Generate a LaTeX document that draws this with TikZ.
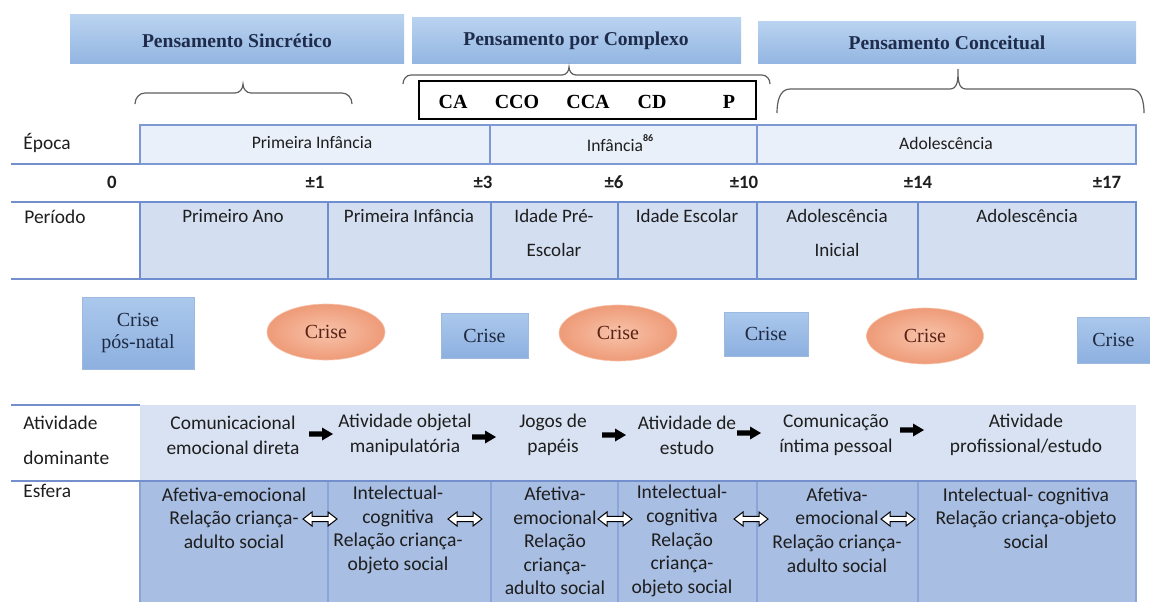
\documentclass[tikz,border=0pt]{standalone}
\usepackage{fontspec}
\setmainfont{Liberation Serif}
\newfontfamily\calfont{Carlito}
\usetikzlibrary{shapes.geometric}
\definecolor{hdrtop}{HTML}{BAD3F0}
\definecolor{hdrbot}{HTML}{93B6E2}
\definecolor{hdrtxt}{HTML}{1F2C4C}
\definecolor{crtop}{HTML}{ABC8EC}
\definecolor{crbot}{HTML}{8DB0E0}
\definecolor{crbord}{HTML}{9DB9E0}
\definecolor{elin}{HTML}{F8C3AA}
\definecolor{elout}{HTML}{EE9B78}
\definecolor{eltxt}{HTML}{5A2214}
\definecolor{crtxt}{HTML}{1E2940}
\definecolor{epfill}{HTML}{EAF0F9}
\definecolor{epbord}{HTML}{7C99D4}
\definecolor{perfill}{HTML}{D3DEF1}
\definecolor{perbord}{HTML}{6E8ED0}
\definecolor{linecol}{HTML}{7390CC}
\definecolor{actfill}{HTML}{D8E2F2}
\definecolor{esffill}{HTML}{A9BEE3}
\definecolor{esfbord}{HTML}{8BA5D6}
\definecolor{txt}{HTML}{1E1E1E}
\definecolor{bracecol}{HTML}{5E5E5E}
\begin{document}
\begin{tikzpicture}[x=0.5pt,y=-0.5pt,
  hdrtext/.style={font=\fontsize{9.8}{12}\selectfont\bfseries, text=hdrtxt, inner sep=0pt},
  hdrbox/.style={top color=hdrtop, bottom color=hdrbot},
  bracestyle/.style={draw=bracecol, line width=0.6pt},
  catext/.style={font=\fontsize{10}{12}\selectfont\bfseries, text=black, inner sep=0pt},
  lbl/.style={font=\calfont\fontsize{9.7}{17.5}\selectfont, text=txt, align=left, inner sep=0pt, anchor=west},
  eptext/.style={font=\calfont\fontsize{8.8}{11}\selectfont, text=txt, inner sep=0pt},
  numtext/.style={font=\calfont\fontsize{9.4}{11}\selectfont\bfseries, text=txt, inner sep=0pt},
  pertext/.style={font=\calfont\fontsize{9.5}{17}\selectfont, text=txt, align=center, inner sep=0pt},
  acttext/.style={font=\calfont\fontsize{9.7}{12.5}\selectfont, text=txt, align=center, inner sep=0pt},
  esftext/.style={font=\calfont\fontsize{9.8}{11.8}\selectfont, text=txt, align=center, inner sep=0pt},
  crbox/.style={rectangle, top color=crtop, bottom color=crbot, draw=crbord, line width=0.3pt,
    font=\fontsize{10}{12}\selectfont, text=crtxt, align=center, inner sep=0pt},
  crell/.style={ellipse, inner color=elin, outer color=elout, draw=elin, line width=0.3pt,
    font=\fontsize{10}{12}\selectfont, text=eltxt, inner sep=0pt},
  blkarr/.pic={\fill[black] (-12,-2.6) -- (1,-2.6) -- (1,-6.5) -- (12,0) -- (1,6.5) -- (1,2.6) -- (-12,2.6) -- cycle;},
  dblarr/.pic={\filldraw[draw=black, fill=white, line width=0.5pt, line join=miter]
     (-17,0) -- (-8,-7) -- (-8,-2.6) -- (8,-2.6) -- (8,-7) -- (17,0) -- (8,7) -- (8,2.6) -- (-8,2.6) -- (-8,7) -- cycle;},
  tline/.style={draw=linecol, line width=1pt}
]
\useasboundingbox (0,0) rectangle (1150,601);
\clip (0,0) rectangle (1150,601);
\fill[white] (0,0) rectangle (1150,601);

% ---------- header boxes ----------
\shade[hdrbox] (70,14) rectangle (404,63);
\node[hdrtext] (hs) at (237,41) {Pensamento Sincrético};
\shade[hdrbox] (412,17) rectangle (741,63);
\node[hdrtext] (hc) at (576,41) {Pensamento por Complexo};
\shade[hdrbox] (758,21) rectangle (1136,63);
\node[hdrtext] (hk) at (947,43) {Pensamento Conceitual};

% ---------- braces ----------
\draw[bracestyle] (135,104) to[out=90,in=180] (145,93) -- (235,93) to[out=0,in=-90] (243,84)
  to[out=-90,in=180] (251,93) -- (342,93) to[out=0,in=90] (352,104);
\draw[bracestyle] (403,84) to[out=90,in=180] (411,75) -- (562,75) to[out=0,in=-90] (569,67)
  to[out=-90,in=180] (576,75) -- (762,75) to[out=0,in=90] (770,84);
\draw[bracestyle] (777,113) to[out=90,in=180] (790,89) -- (950,89) to[out=0,in=-90] (958,69)
  to[out=-90,in=180] (966,89) -- (1131,89) to[out=0,in=90] (1144,113);

% ---------- complex types box ----------
\draw[black, line width=1.1pt] (419,81) rectangle (756,119);
\node[catext] (ca) at (453,102) {CA};
\node[catext] (cco) at (517,102) {CCO};
\node[catext] (cca) at (588,102) {CCA};
\node[catext] (cd) at (652,102) {CD};
\node[catext] (p) at (729,102) {P};

% ---------- Época ----------
\draw[epbord, fill=epfill, line width=1pt] (140,125) rectangle (490,164);
\draw[epbord, fill=epfill, line width=1pt] (490,125) rectangle (757,164);
\draw[epbord, fill=epfill, line width=1pt] (757,125) rectangle (1136,164);
\draw[tline] (11,164) -- (140,164);
\node[lbl] (lepoca) at (23,143) {Época};
\node[eptext] (ep1) at (312,143) {Primeira Infância};
\node[eptext] (ep2) at (620,143) {Infância\raisebox{0.55em}{\fontsize{5}{5}\selectfont\bfseries 86}};
\node[eptext] (ep3) at (946,143) {Adolescência};

% ---------- ages ----------
\node[numtext] (n0) at (112,182) {0};
\node[numtext] (n1) at (315,182) {±1};
\node[numtext] (n3) at (483,182) {±3};
\node[numtext] (n6) at (614,182) {±6};
\node[numtext] (n10) at (744,182) {±10};
\node[numtext] (n14) at (918,182) {±14};
\node[numtext] (n17) at (1107,182) {±17};

% ---------- Período ----------
\foreach \a/\b in {140/328,328/491,491/618,618/757,757/918,918/1136}
  \draw[perbord, fill=perfill, line width=1pt] (\a,202) rectangle (\b,279);
\draw[tline] (11,202) -- (140,202);
\draw[tline] (11,279) -- (140,279);
\node[lbl] (lper) at (24,217) {Período};
\node[pertext] (p1) at (233,216) {Primeiro Ano};
\node[pertext] (p2) at (409,216) {Primeira Infância};
\node[pertext] (p3) at (554,233) {Idade Pré-\\Escolar};
\node[pertext] (p4) at (687,216) {Idade Escolar};
\node[pertext] (p5) at (837,233) {Adolescência\\Inicial};
\node[pertext] (p6) at (1027,216) {Adolescência};

% ---------- crises ----------
\node[crbox, minimum width=56pt, minimum height=36pt] (c1) at (138,333) {Crise\\[-1pt]pós-natal};
\node[crell, minimum width=59pt, minimum height=28pt] (c2) at (326,332) {Crise};
\node[crbox, minimum width=43.5pt, minimum height=22.5pt] (c3) at (484.5,336) {Crise};
\node[crell, minimum width=59pt, minimum height=28pt] (c4) at (618,333) {Crise};
\node[crbox, minimum width=42pt, minimum height=22pt] (c5) at (766,334) {Crise};
\node[crell, minimum width=58.5pt, minimum height=28pt] (c6) at (925,336) {Crise};
\node[crbox, minimum width=36.5pt, minimum height=23pt] (c7) at (1113.5,340) {Crise};

% ---------- Atividade dominante ----------
\fill[actfill] (140,405) rectangle (1136,481);
\draw[tline] (11,405) -- (140,405);
\node[lbl] (lact) at (23,440.5) {Atividade\\dominante};
\node[acttext] (a1) at (233,435) {Comunicacional\\emocional direta};
\node[acttext] (a2) at (405,435) {Atividade objetal\\manipulatória};
\node[acttext] (a3) at (553,435) {Jogos de\\papéis};
\node[acttext] (a4) at (687,435) {Atividade de\\estudo};
\node[acttext] (a5) at (836,435) {Comunicação\\íntima pessoal};
\node[acttext] (a6) at (1026,435) {Atividade\\profissional/estudo};
\pic (ar1) at (321,434) {blkarr};
\pic (ar2) at (484,437) {blkarr};
\pic (ar3) at (614,435) {blkarr};
\pic (ar4) at (749,433) {blkarr};
\pic (ar5) at (912,430) {blkarr};

% ---------- Esfera ----------
\foreach \a/\b in {140/328,328/491,491/618,618/757,757/918,918/1136}
  \draw[esfbord, fill=esffill, line width=0.6pt] (\a,481) rectangle (\b,620);
\draw[tline] (11,481) -- (1136,481);
\node[lbl] (lesf) at (23,491) {Esfera};
\node[esftext] (s1) at (234,518) {Afetiva-emocional\\Relação criança-\\adulto social};
\node[esftext] (s2) at (398,530) {Intelectual-\\cognitiva\\Relação criança-\\objeto social};
\node[esftext] (s3) at (555,541) {Afetiva-\\emocional\\Relação\\criança-\\adulto social};
\node[esftext] (s4) at (682,541) {Intelectual-\\cognitiva\\Relação\\criança-\\objeto social};
\node[esftext] (s5) at (837,530) {Afetiva-\\emocional\\Relação criança-\\adulto social};
\node[esftext] (s6) at (1026,518) {Intelectual- cognitiva\\Relação criança-objeto\\social};
\pic (d1) at (320,519) {dblarr};
\pic (d2) at (465,519) {dblarr};
\pic (d3) at (615,519) {dblarr};
\pic (d4) at (751,519) {dblarr};
\pic (d5) at (898,519) {dblarr};
\end{tikzpicture}
\end{document}
